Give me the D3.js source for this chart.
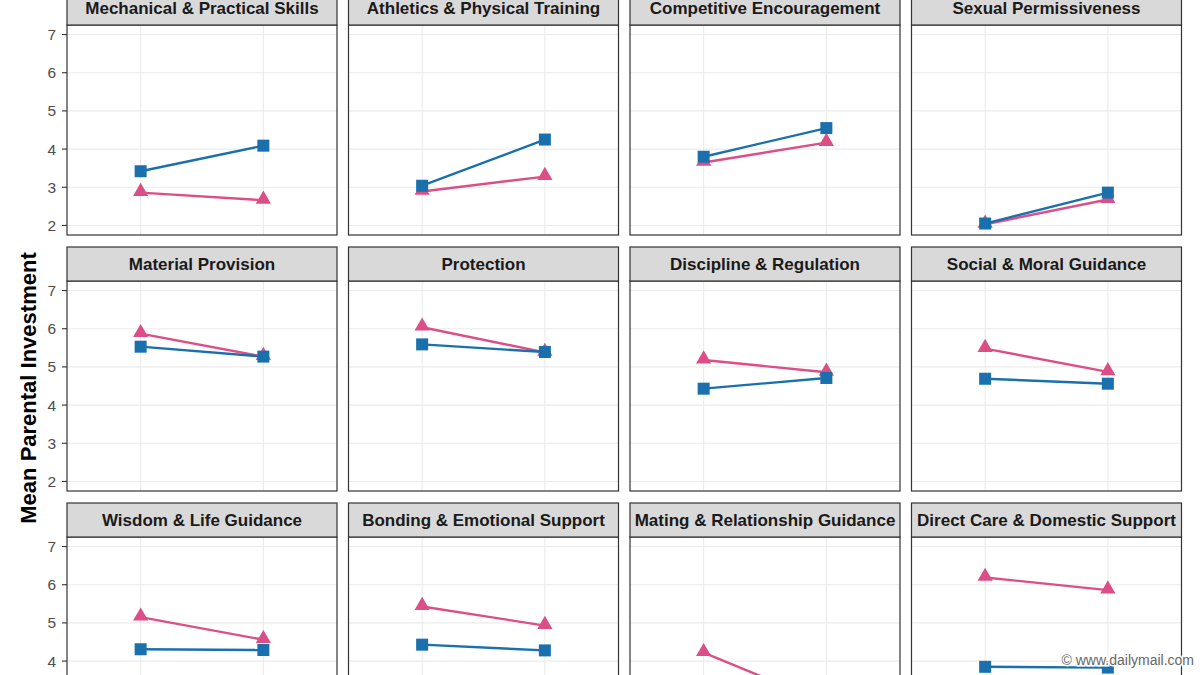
<!DOCTYPE html>
<html>
<head>
<meta charset="utf-8">
<script src="https://cdn.jsdelivr.net/npm/d3@7"></script>
<style>
  html, body { margin: 0; padding: 0; background: #fff; }
  svg { display: block; font-family: "Liberation Sans", Arial, sans-serif; }
</style>
</head>
<body>
<svg id="chart" width="1200" height="675"></svg>
<script>
// facets in reading order (4 per row)
const facets = [
  'Mechanical & Practical Skills', 'Athletics & Physical Training', 'Competitive Encouragement', 'Sexual Permissiveness',
  'Material Provision', 'Protection', 'Discipline & Regulation', 'Social & Moral Guidance',
  'Wisdom & Life Guidance', 'Bonding & Emotional Support', 'Mating & Relationship Guidance', 'Direct Care & Domestic Support'
];
const xCats = ['Daughter', 'Son'];
const series = ['Mother', 'Father'];
// [left, right] per facet
const motherVals = [
  [2.86, 2.66], [2.89, 3.28], [3.65, 4.17], [2.03, 2.68],
  [5.87, 5.27], [6.04, 5.38], [5.18, 4.86], [5.48, 4.87],
  [5.15, 4.56], [5.43, 4.93], [4.22, 2.90], [6.19, 5.86]
];
const fatherVals = [
  [3.42, 4.09], [3.04, 4.25], [3.80, 4.55], [2.05, 2.86],
  [5.53, 5.27], [5.59, 5.39], [4.43, 4.71], [4.69, 4.56],
  [4.31, 4.29], [4.43, 4.28], [3.20, 2.60], [3.85, 3.83]
];
const yTicks = [2, 3, 4, 5, 6, 7];
const yTitle = 'Mean Parental Investment';

const colors = { Mother: '#dc4f86', Father: '#1a70ad' };

const W = 1200, H = 675;
const svg = d3.select('#chart');
const pw = 270, ph = 210, stripH = 34;
const colX = c => 67 + c * 281.5;
const rowY = r => 25 + r * 256;

const x = d3.scalePoint().domain(xCats).range([0, pw]).padding(0.6);
const y = d3.scaleLinear().domain([1.75, 7.25]).range([ph, 0]);

const tri = d3.symbol().type(d3.symbolTriangle).size(100);

facets.forEach((name, i) => {
  const c = i % 4, r = Math.floor(i / 4);
  const top = rowY(r);
  const g = svg.append('g').attr('transform', `translate(${colX(c)},${top})`);

  g.append('rect').attr('width', pw).attr('height', ph).attr('fill', '#fff');

  // grid
  g.selectAll('.hg').data(yTicks).join('line')
    .attr('x1', 0).attr('x2', pw).attr('y1', d => y(d)).attr('y2', d => y(d))
    .attr('stroke', '#ebebeb').attr('stroke-width', 1.1);
  g.selectAll('.vg').data(xCats).join('line')
    .attr('x1', d => x(d)).attr('x2', d => x(d)).attr('y1', 0).attr('y2', ph)
    .attr('stroke', '#ebebeb').attr('stroke-width', 1.1);

  const rows = {
    Mother: xCats.map((k, j) => ({ k, v: motherVals[i][j] })),
    Father: xCats.map((k, j) => ({ k, v: fatherVals[i][j] }))
  };
  const line = d3.line().x(d => x(d.k)).y(d => y(d.v));

  const clip = 'clip' + i;
  g.append('clipPath').attr('id', clip).append('rect').attr('width', pw).attr('height', ph);
  const plot = g.append('g').attr('clip-path', `url(#${clip})`);

  series.forEach(s => {
    plot.append('path').datum(rows[s]).attr('d', line)
      .attr('fill', 'none').attr('stroke', colors[s]).attr('stroke-width', 2.4);
    if (s === 'Mother') {
      plot.selectAll('.tri').data(rows[s]).join('path')
        .attr('d', tri).attr('transform', d => `translate(${x(d.k)},${y(d.v) - 1})`)
        .attr('fill', colors[s]);
    } else {
      plot.selectAll('.sq').data(rows[s]).join('rect')
        .attr('x', d => x(d.k) - 6).attr('y', d => y(d.v) - 6)
        .attr('width', 12).attr('height', 12).attr('fill', colors[s]);
    }
  });

  g.append('rect').attr('width', pw).attr('height', ph)
    .attr('fill', 'none').attr('stroke', '#333').attr('stroke-width', 1.2);

  // strip
  g.append('rect').attr('y', -stripH).attr('width', pw).attr('height', stripH)
    .attr('fill', '#d9d9d9').attr('stroke', '#333').attr('stroke-width', 1.2);
  g.append('text').attr('x', pw / 2).attr('y', -stripH / 2 + 6)
    .attr('text-anchor', 'middle').attr('font-size', 17).attr('font-weight', 'bold')
    .attr('fill', '#1a1a1a').text(name);

  // y axis on first column
  if (c === 0) {
    const vis = yTicks.filter(d => top + y(d) + 6 < H);
    const ax = g.append('g');
    ax.selectAll('line').data(yTicks).join('line')
      .attr('x1', -5).attr('x2', 0).attr('y1', d => y(d)).attr('y2', d => y(d))
      .attr('stroke', '#333').attr('stroke-width', 1.1);
    ax.selectAll('text').data(vis).join('text')
      .attr('x', -11).attr('y', d => y(d) + 5.5).attr('text-anchor', 'end')
      .attr('font-size', 15.5).attr('fill', '#4d4d4d').text(d => d);
  }
});

svg.append('text')
  .attr('transform', 'translate(36,388) rotate(-90)')
  .attr('text-anchor', 'middle').attr('font-size', 22).attr('font-weight', 'bold')
  .attr('fill', '#000').text(yTitle);

svg.append('text').attr('x', 1194).attr('y', 665).attr('text-anchor', 'end')
  .attr('font-size', 14).attr('fill', '#666')
  .attr('stroke', '#fff').attr('stroke-width', 3).attr('paint-order', 'stroke')
  .text('\u00a9 www.dailymail.com');
</script>
</body>
</html>
